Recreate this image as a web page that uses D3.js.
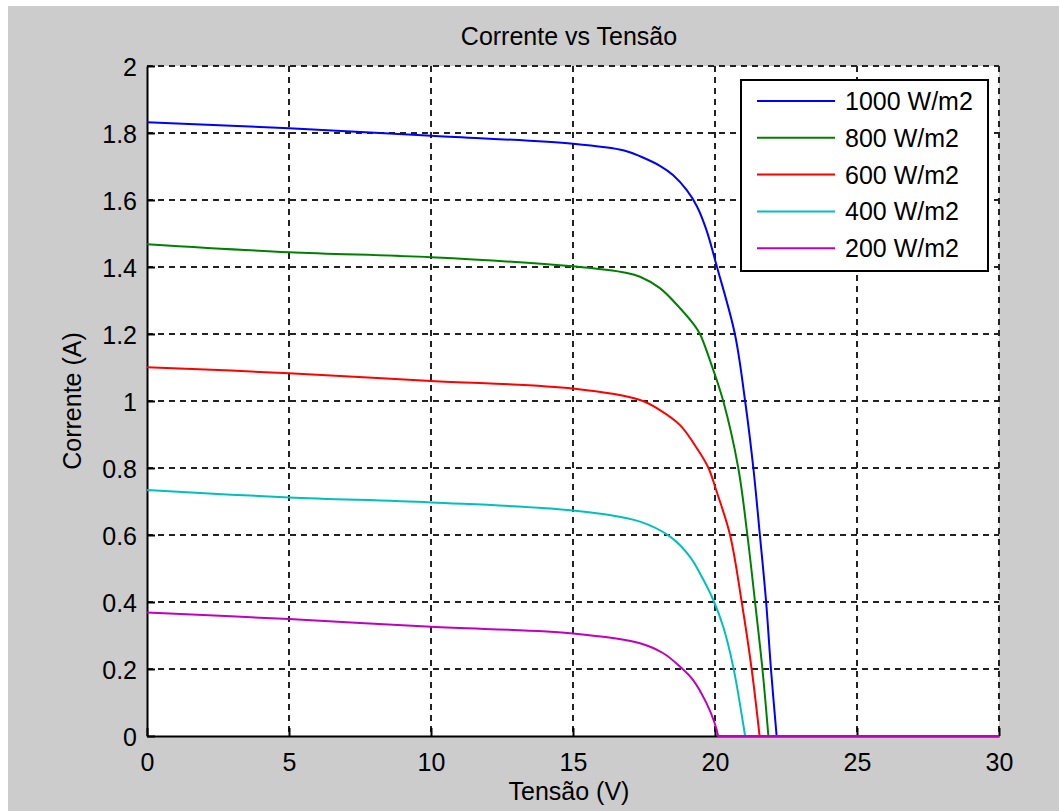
<!DOCTYPE html>
<html>
<head>
<meta charset="utf-8">
<script src="https://cdn.jsdelivr.net/npm/d3@7"></script>
<style>
  body { margin: 0; background: #ffffff; }
  text { font-family: "Liberation Sans", Arial, sans-serif; fill: #000; }
</style>
</head>
<body>
<div id="main"></div>
<script>
// ---------------- data ----------------
const seriesNames = ["1000 W/m2", "800 W/m2", "600 W/m2", "400 W/m2", "200 W/m2"];
const seriesColors = ["#0000ff", "#008000", "#ff0000", "#00bfbf", "#bf00bf"];

// tension (V) / corrente (A) pairs for each irradiance
const v1000 = [0, 5, 10, 15, 16.8, 17.4, 18.06, 18.53, 19.0, 19.37, 19.7, 20.07, 20.7, 21.06, 21.35, 21.58, 21.8, 21.97, 22.17, 30];
const i1000 = [1.832, 1.814, 1.792, 1.768, 1.748, 1.729, 1.702, 1.674, 1.63, 1.58, 1.51, 1.4, 1.2, 1.0, 0.8, 0.6, 0.4, 0.2, 0, 0];

const v800 = [0, 5, 10, 15, 16.9, 17.36, 18.06, 18.77, 19.23, 19.47, 19.82, 20.29, 20.82, 21.14, 21.41, 21.67, 21.88, 30];
const i800 = [1.468, 1.444, 1.429, 1.402, 1.382, 1.371, 1.337, 1.277, 1.231, 1.2, 1.122, 1.0, 0.8, 0.6, 0.4, 0.2, 0, 0];

const v600 = [0, 5, 10, 15, 17.36, 18.06, 18.77, 19.4, 19.77, 20.06, 20.53, 20.94, 21.29, 21.57, 30];
const i600 = [1.101, 1.083, 1.06, 1.037, 1.003, 0.973, 0.928, 0.854, 0.8, 0.729, 0.6, 0.4, 0.2, 0, 0];

const v400 = [0, 5, 10, 15, 17.36, 18.42, 19.12, 19.53, 19.94, 20.29, 20.64, 21.06, 30];
const i400 = [0.734, 0.712, 0.697, 0.673, 0.64, 0.595, 0.535, 0.476, 0.406, 0.326, 0.207, 0, 0];

const v200 = [0, 5, 10, 15, 17.36, 18.18, 18.77, 19.23, 19.7, 19.99, 20.11, 30];
const i200 = [0.369, 0.349, 0.326, 0.306, 0.277, 0.247, 0.207, 0.167, 0.098, 0.038, 0, 0];

const xTicks = [0, 5, 10, 15, 20, 25, 30];
const yTicks = [0, 0.2, 0.4, 0.6, 0.8, 1, 1.2, 1.4, 1.6, 1.8, 2];

const allV = [v1000, v800, v600, v400, v200];
const allI = [i1000, i800, i600, i400, i200];

// ---------------- layout ----------------
const width = 1059;
const height = 811;
const plot = { left: 147, right: 999, top: 66, bottom: 736 };

const svg = d3
  .select("#main")
  .append("svg")
  .attr("width", width)
  .attr("height", height);

// figure background (matlab grey, small white strip top/left)
svg.append("rect")
  .attr("x", 8).attr("y", 6)
  .attr("width", width - 8).attr("height", height - 6)
  .attr("fill", "#cccccc");

svg.append("rect")
  .attr("x", plot.left).attr("y", plot.top)
  .attr("width", plot.right - plot.left).attr("height", plot.bottom - plot.top)
  .attr("fill", "#ffffff");

const x = d3.scaleLinear().domain([0, 30]).range([plot.left, plot.right]);
const y = d3.scaleLinear().domain([0, 2]).range([plot.bottom, plot.top]);

// ---------------- grid ----------------
const grid = svg.append("g")
  .attr("stroke", "#222")
  .attr("stroke-width", 2)
  .attr("stroke-dasharray", "6,5");

grid.selectAll(".gx")
  .data(xTicks.filter((d) => d > 0))
  .join("line")
  .attr("x1", (d) => x(d)).attr("x2", (d) => x(d))
  .attr("y1", plot.top).attr("y2", plot.bottom);

grid.selectAll(".gy")
  .data(yTicks.filter((d) => d > 0))
  .join("line")
  .attr("y1", (d) => y(d)).attr("y2", (d) => y(d))
  .attr("x1", plot.left).attr("x2", plot.right);

// ---------------- axes ----------------
const xAxis = svg.append("g")
  .attr("transform", `translate(0,${plot.bottom})`)
  .call(d3.axisBottom(x).tickValues(xTicks).tickSizeInner(-8).tickSizeOuter(0).tickPadding(12).tickFormat(d3.format("d")));

const yAxis = svg.append("g")
  .attr("transform", `translate(${plot.left},0)`)
  .call(d3.axisLeft(y).tickValues(yTicks).tickSizeInner(-8).tickSizeOuter(0).tickPadding(10).tickFormat(d3.format("~g")));

[xAxis, yAxis].forEach((ax) => {
  ax.select(".domain").attr("stroke", "#000").attr("stroke-width", 2);
  ax.selectAll(".tick line").attr("stroke", "#000").attr("stroke-width", 2);
  ax.selectAll(".tick text").style("font-size", "25px").attr("fill", "#000");
});
xAxis.selectAll(".tick text").attr("dy", "0.9em");
yAxis.selectAll(".tick text").attr("dy", "0.36em");

// ---------------- curves ----------------
// smooth part down to open circuit, then the flat zero tail
const smoothLine = d3.line()
  .x((d) => x(d[0]))
  .y((d) => y(d[1]))
  .curve(d3.curveCatmullRom.alpha(0.5));
const flatLine = d3.line()
  .x((d) => x(d[0]))
  .y((d) => y(d[1]));

allV.forEach((vs, k) => {
  const pts = vs.map((v, j) => [v, allI[k][j]]);
  const z = pts.findIndex((p) => p[1] === 0);
  const head = pts.slice(0, z + 1);
  const tail = pts.slice(z);
  svg.append("path")
    .attr("d", smoothLine(head) + flatLine(tail).replace("M", "L"))
    .attr("fill", "none")
    .attr("stroke", seriesColors[k])
    .attr("stroke-width", 2);
});

// ---------------- titles ----------------
svg.append("text")
  .attr("x", 569).attr("y", 45)
  .attr("text-anchor", "middle")
  .style("font-size", "25px")
  .text("Corrente vs Tensão");

svg.append("text")
  .attr("x", 569).attr("y", 800)
  .attr("text-anchor", "middle")
  .style("font-size", "25px")
  .text("Tensão (V)");

svg.append("text")
  .attr("transform", "translate(81,401) rotate(-90)")
  .attr("text-anchor", "middle")
  .style("font-size", "25px")
  .text("Corrente (A)");

// ---------------- legend ----------------
const legend = svg.append("g");
legend.append("rect")
  .attr("x", 741).attr("y", 80)
  .attr("width", 247).attr("height", 191)
  .attr("fill", "#fff")
  .attr("stroke", "#000")
  .attr("stroke-width", 2);

seriesNames.forEach((name, k) => {
  const ly = 101 + k * 36.8;
  legend.append("line")
    .attr("x1", 757).attr("x2", 835)
    .attr("y1", ly).attr("y2", ly)
    .attr("stroke", seriesColors[k])
    .attr("stroke-width", 2);
  legend.append("text")
    .attr("x", 845).attr("y", ly)
    .attr("dy", "0.36em")
    .style("font-size", "25px")
    .text(name);
});
</script>
</body>
</html>
